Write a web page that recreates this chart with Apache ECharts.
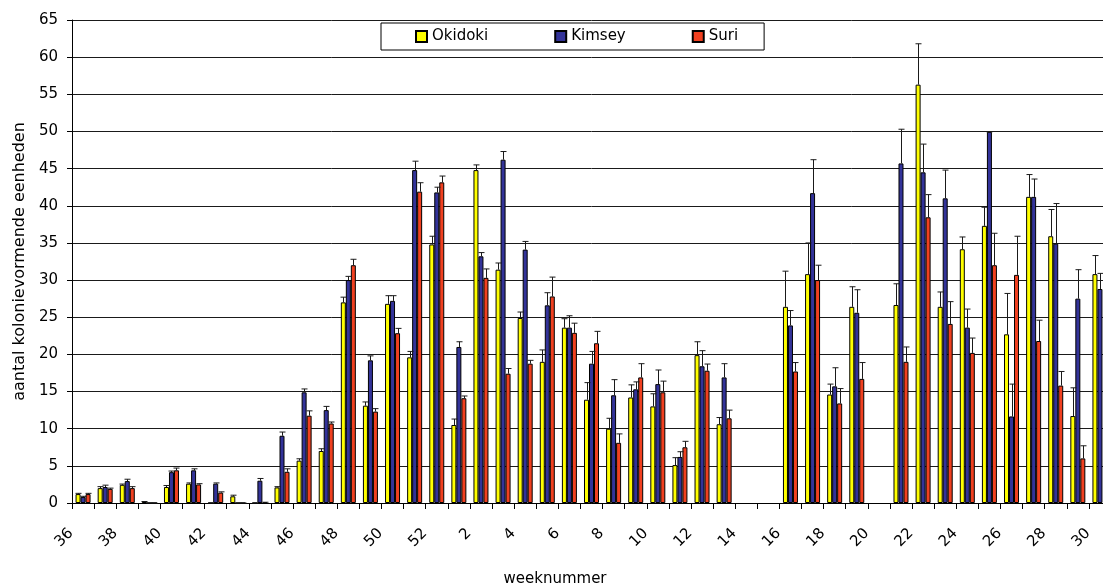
<!DOCTYPE html>
<html>
<head>
<meta charset="utf-8">
<script src="https://cdn.jsdelivr.net/npm/echarts@6/dist/echarts.min.js"></script>
<style>
html,body{margin:0;padding:0;background:#fff;overflow:hidden;width:1103px;height:586px;}
#chart{width:1111px;height:586px;}
</style>
</head>
<body>
<div id="chart"></div>
<script>
const weeks = ['36','37','38','39','40','41','42','43','44','45','46','47','48','49','50','51','52',
  '1','2','3','4','5','6','7','8','9','10','11','12','13','14','15','16','17','18','19','20',
  '21','22','23','24','25','26','27','28','29','30'];
const okidoki = [1.2, 2.0, 2.45, 0.2, 2.15, 2.6, 0, 0.9, 0, 2.1, 5.7, 7.0, 27.0, 13.1, 26.8, 19.6, 34.8,
  10.5, 44.8, 31.4, 24.9, 19.0, 23.6, 13.9, 10.0, 14.2, 13.0, 5.1, 19.9, 10.6, null, null, 26.4, 30.8, 14.6, 26.4, null,
  26.65, 56.3, 26.4, 34.15, 37.3, 22.7, 41.2, 35.9, 11.7, 30.8];
const kimsey = [0.8, 2.15, 2.95, 0, 4.15, 4.4, 2.6, 0, 3.0, 9.05, 14.9, 12.5, 30.0, 19.2, 27.2, 44.8, 41.8,
  21.0, 33.2, 46.2, 34.1, 26.6, 23.6, 18.75, 14.5, 15.3, 16.0, 6.2, 18.4, 16.9, null, null, 23.9, 41.7, 15.7, 25.6, null,
  45.7, 44.5, 41.0, 23.6, 49.95, 11.65, 41.2, 34.9, 27.5, 28.8];
const suri = [1.2, 1.9, 2.0, 0, 4.4, 2.5, 1.4, 0, 0.1, 4.2, 11.75, 10.7, 32.0, 12.3, 22.85, 41.9, 43.15,
  14.1, 30.3, 17.4, 18.75, 27.8, 22.9, 21.5, 8.1, 16.9, 14.9, 7.5, 17.8, 11.4, null, null, 17.7, 30.0, 13.4, 16.7, null,
  19.0, 38.45, 24.1, 20.2, 32.0, 30.7, 21.8, 15.8, 6.0, null];
const errOkidoki = [0.1, 0.2, 0.1, 0, 0.2, 0.1, 0, 0.15, 0, 0.1, 0.25, 0.3, 0.7, 0.5, 1.1, 0.8, 1.1,
  0.8, 0.7, 0.9, 0.8, 1.6, 1.2, 2.3, 1.4, 1.7, 1.7, 1.0, 1.8, 0.9, null, null, 4.8, 4.2, 1.4, 2.7, null,
  2.85, 5.5, 2.0, 1.65, 2.5, 5.5, 3.0, 3.6, 3.8, 2.5];
const errKimsey = [0.1, 0.25, 0.25, 0, 0.15, 0.2, 0.1, 0, 0.3, 0.5, 0.45, 0.5, 0.5, 0.6, 0.7, 1.2, 0.7,
  0.7, 0.5, 1.1, 1.1, 1.7, 1.6, 1.65, 2.1, 1.0, 1.9, 0.7, 2.1, 1.85, null, null, 2.0, 4.5, 2.5, 3.1, null,
  4.6, 3.8, 3.8, 2.5, 0, 4.35, 2.4, 5.4, 3.9, 2.1];
const errSuri = [0.1, 0.1, 0.2, 0, 0.3, 0.1, 0.1, 0, 0, 0.4, 0.65, 0.2, 0.8, 0.4, 0.65, 1.2, 0.85,
  0.3, 1.2, 0.7, 0.45, 2.6, 1.3, 1.6, 1.2, 1.85, 1.5, 0.8, 0.9, 1.1, null, null, 1.2, 2.0, 2.0, 2.2, null,
  2.0, 3.05, 3.0, 2.0, 4.3, 5.2, 2.8, 1.9, 1.7, null];
const yTicks = {min: 0, max: 65, interval: 5};

const FONT = 'DejaVu Sans';
const BAR_W = 5;
const colors = {Okidoki: '#FFFF00', Kimsey: '#333399', Suri: '#F04020'};

function errData(vals, errs) {
  const out = [];
  vals.forEach((v, i) => {
    if (v != null && errs[i] != null) out.push([i, v, errs[i]]);
  });
  return out;
}
function errSeries(name, vals, errs, offset) {
  return {
    type: 'custom',
    name: name + ' fout',
    z: 5,
    silent: true,
    encode: {x: 0, y: 1},
    data: errData(vals, errs),
    renderItem: function (params, api) {
      const idx = api.value(0), v = api.value(1), e = api.value(2);
      const p0 = api.coord([idx, v]);
      const p1 = api.coord([idx, v + e]);
      const cx = Math.round(p0[0] + offset) + 0.5;
      const style = {stroke: '#1a1a1a', lineWidth: 1};
      return {
        type: 'group',
        children: [
          {type: 'line', shape: {x1: cx, y1: p0[1], x2: cx, y2: p1[1]}, style: style},
          {type: 'line', shape: {x1: cx - 3, y1: p1[1], x2: cx + 3, y2: p1[1]}, style: style}
        ]
      };
    }
  };
}
function barSeries(name, vals) {
  return {
    type: 'bar',
    name: name,
    data: vals,
    barWidth: BAR_W,
    barGap: '0%',
    itemStyle: {color: colors[name], borderColor: '#000', borderWidth: 1},
    emphasis: {disabled: true}
  };
}

const chart = echarts.init(document.getElementById('chart'), null, {renderer: 'canvas'});
chart.setOption({
  animation: false,
  backgroundColor: '#fff',
  textStyle: {fontFamily: FONT},
  grid: {left: 72, right: 0, top: 20, bottom: 83, containLabel: false, outerBoundsMode: 'none'},
  legend: {
    data: ['Okidoki', 'Kimsey', 'Suri'],
    left: 381, top: 23,
    orient: 'horizontal',
    itemWidth: 11, itemHeight: 11, itemGap: 66,
    padding: [6, 26, 6, 34],
    backgroundColor: '#fff',
    borderColor: '#000', borderWidth: 1, borderRadius: 0,
    icon: 'rect',
    textStyle: {fontFamily: FONT, fontSize: 15, color: '#000'}
  },
  xAxis: {
    type: 'category',
    data: weeks,
    name: 'weeknummer',
    nameLocation: 'middle',
    nameGap: 69,
    nameTextStyle: {fontFamily: FONT, fontSize: 15, color: '#000', padding: [0, 73, 0, 0]},
    axisLine: {show: true, lineStyle: {color: '#000', width: 1}},
    axisTick: {show: true, interval: 0, length: 6, lineStyle: {color: '#000'}},
    axisLabel: {interval: 1, rotate: 45, margin: 16, fontFamily: FONT, fontSize: 15, color: '#000', padding: [0, 17, 0, 0]},
    splitLine: {show: false}
  },
  yAxis: {
    type: 'value',
    min: yTicks.min, max: yTicks.max, interval: yTicks.interval,
    name: 'aantal kolonievormende eenheden',
    nameLocation: 'middle',
    nameGap: 44,
    nameTextStyle: {fontFamily: FONT, fontSize: 16, color: '#000'},
    axisLine: {show: true, lineStyle: {color: '#000', width: 1}},
    axisTick: {show: true, length: 5, lineStyle: {color: '#000'}},
    axisLabel: {margin: 14, fontFamily: FONT, fontSize: 15, color: '#000'},
    splitLine: {show: true, lineStyle: {color: '#1a1a1a', width: 1}}
  },
  series: [
    barSeries('Okidoki', okidoki),
    barSeries('Kimsey', kimsey),
    barSeries('Suri', suri),
    errSeries('Okidoki', okidoki, errOkidoki, -BAR_W),
    errSeries('Kimsey', kimsey, errKimsey, 0),
    errSeries('Suri', suri, errSuri, BAR_W)
  ]
});
</script>
</body>
</html>
